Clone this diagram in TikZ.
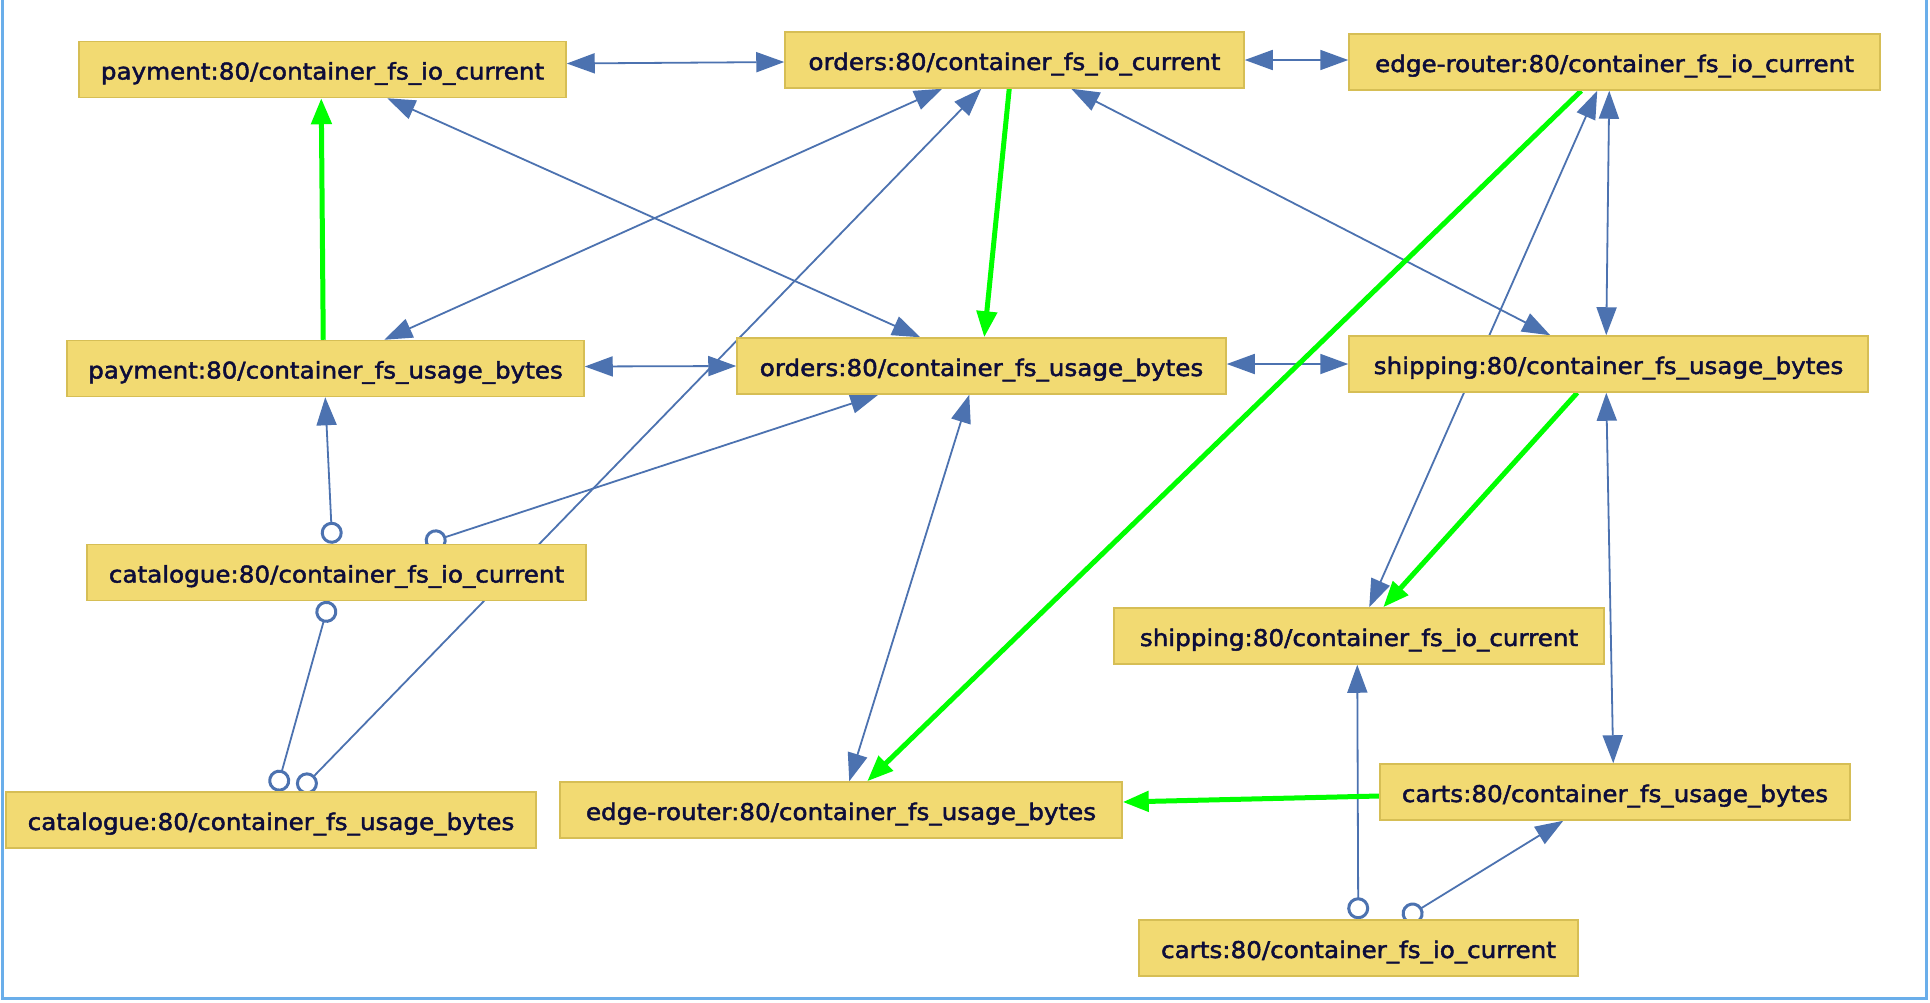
\documentclass[tikz,border=0pt]{standalone}
\usepackage{fontspec}
\setmainfont{DejaVu Sans}[FakeStretch=1.07,FakeBold=2]
\usetikzlibrary{arrows.meta}
\definecolor{boxfill}{HTML}{F2DA72}
\definecolor{boxline}{HTML}{D6BE55}
\definecolor{edgeblue}{HTML}{4C72B0}
\definecolor{edgegreen}{HTML}{00FF00}
\definecolor{frameblue}{HTML}{6AAEEA}
\definecolor{txt}{HTML}{0D0D3A}
\pgfdeclarelayer{canvas}
\pgfdeclarelayer{links}
\pgfsetlayers{canvas,links,main}
\tikzset{
  bluetip/.tip={Triangle[length=28pt,width=20pt]},
  greentip/.tip={Triangle[length=26pt,width=20pt]},
  ring/.tip={Circle[open,length=22pt,width=22pt,line width=3pt]},
}
\begin{document}
\begin{tikzpicture}[x=1pt,y=-1pt,
  metric/.style={draw=boxline, fill=boxfill, line width=1.5pt, text=txt, inner sep=0pt,
    minimum height=56pt, text height=24pt, text depth=4pt,
    font=\fontsize{23pt}{27pt}\selectfont},
  link/.style={draw=edgeblue, line width=1.8pt},
  both/.style={link, bluetip-bluetip},
  fromring/.style={link, ring-bluetip},
  ringring/.style={link, ring-ring},
  hot/.style={draw=edgegreen, line width=5pt, -greentip},
]
\useasboundingbox (0,0) rectangle (1930,1002);
\begin{pgfonlayer}{canvas}
  \fill[white] (0,0) rectangle (1930,1002);
  \draw[frameblue, line width=3pt] (2,0) -- (2,998.5) -- (1926.5,998.5) -- (1926.5,0);
\end{pgfonlayer}

\node[metric, minimum width=487pt] (pio) at (322.5,69.5) {payment:80/container\_fs\_io\_current};
\node[metric, minimum width=459pt] (oio) at (1014.5,60) {orders:80/container\_fs\_io\_current};
\node[metric, minimum width=531pt] (eio) at (1614.5,62) {edge-router:80/container\_fs\_io\_current};
\node[metric, minimum width=517pt] (pus) at (325.5,368.5) {payment:80/container\_fs\_usage\_bytes};
\node[metric, minimum width=489pt] (ous) at (981.5,366) {orders:80/container\_fs\_usage\_bytes};
\node[metric, minimum width=519pt] (sus) at (1608.5,364) {shipping:80/container\_fs\_usage\_bytes};
\node[metric, minimum width=499pt] (cio) at (336.5,572.5) {catalogue:80/container\_fs\_io\_current};
\node[metric, minimum width=530pt] (cus) at (271,820) {catalogue:80/container\_fs\_usage\_bytes};
\node[metric, minimum width=562pt] (eus) at (841,810) {edge-router:80/container\_fs\_usage\_bytes};
\node[metric, minimum width=490pt] (sio) at (1359,636) {shipping:80/container\_fs\_io\_current};
\node[metric, minimum width=470pt] (cau) at (1615,792) {carts:80/container\_fs\_usage\_bytes};
\node[metric, minimum width=439pt] (cai) at (1358.5,948) {carts:80/container\_fs\_io\_current};

\begin{pgfonlayer}{links}
\draw[both] ([yshift=6pt]pio.east) -- ([yshift=-2pt]oio.west);
\draw[both] (oio.east) -- ([yshift=2pt]eio.west);
\draw[both] ([xshift=309pt]pio.south west) -- ([xshift=184pt]ous.north west);
\draw[both] ([xshift=158pt]oio.south west) -- ([xshift=318pt]pus.north west);
\draw[fromring] ([xshift=294pt]cus.north west) -- ([xshift=197pt]oio.south west);
\draw[fromring] ([xshift=246pt]cio.north west) -- ([xshift=259pt]pus.south west);
\draw[fromring] ([xshift=339pt]cio.north west) -- ([xshift=142pt]ous.south west);
\draw[ringring] ([xshift=243pt]cio.south west) -- ([xshift=271pt]cus.north west);
\draw[both] ([xshift=233pt]ous.south west) -- ([xshift=290pt]eus.north west);
\draw[both] ([yshift=2pt]pus.east) -- (ous.west);
\draw[both] ([yshift=2pt]ous.east) -- (sus.west);
\draw[both] ([xshift=287pt]oio.south west) -- ([xshift=202pt]sus.north west);
\draw[both] ([xshift=261pt]eio.south west) -- ([xshift=258pt]sus.north west);
\draw[both] ([xshift=258pt]sus.south west) -- ([xshift=234pt]cau.north west);
\draw[both] ([xshift=249pt]eio.south west) -- ([xshift=256pt]sio.north west);
\draw[fromring] ([xshift=220pt]cai.north west) -- ([xshift=244pt]sio.south west);
\draw[fromring] ([xshift=265pt]cai.north west) -- ([xshift=184pt]cau.south west);
\draw[hot] ([xshift=257pt]pus.north west) -- ([xshift=243pt]pio.south west);
\draw[hot] ([xshift=225pt]oio.south west) -- ([xshift=248pt]ous.north west);
\draw[hot] ([xshift=233pt]eio.south west) -- ([xshift=308pt]eus.north west);
\draw[hot] ([xshift=229pt]sus.south west) -- ([xshift=270pt]sio.north west);
\draw[hot] ([yshift=-4pt]cau.west) -- ([yshift=8pt]eus.east);
\end{pgfonlayer}
\end{tikzpicture}
\end{document}
